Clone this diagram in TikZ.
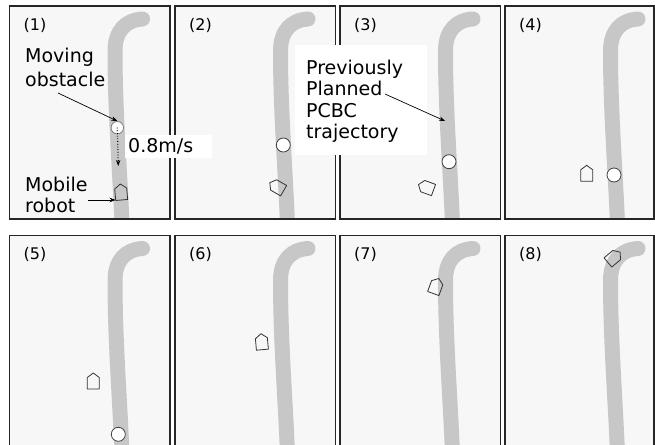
\documentclass[tikz,border=0pt]{standalone}
\usepackage{fontspec}
\setmainfont{DejaVu Sans}
\usetikzlibrary{arrows.meta}
\begin{document}
\begin{tikzpicture}[x=1pt,y=-1pt,
  panelbg/.style={fill=black!3},
  panelframe/.style={draw=black!85,line width=1.2pt},
  traj/.style={draw=black!22,line width=15pt,line cap=round},
  obst/.style={circle,draw=black!75,line width=0.8pt,fill=white,minimum size=14pt,inner sep=0pt},
  robotline/.style={draw=black!80,line width=0.8pt,line join=round},
  robot/.pic={\draw[robotline] (-6,8) -- (6,8) -- (6,-3.5) -- (0,-8) -- (-6,-3.5) -- cycle;},
  lbl/.style={font=\fontsize{19}{22}\selectfont,inner sep=0pt,align=left},
  num/.style={font=\fontsize{16}{19}\selectfont,inner sep=0pt},
  pointer/.style={-{Stealth[length=6pt,width=4.5pt]},line width=0.7pt,black}
]
\useasboundingbox (0,0) rectangle (655,444);
\foreach \px/\py/\pw [count=\i] in {9.5/6/160.5, 175/6/160.5, 340/6/160.5, 505/6/149, 9.5/235.5/160.5, 175/235.5/160.5, 340/235.5/160.5, 505/235.5/149}{
  \begin{scope}[shift={(\px,\py)}]
    \fill[panelbg] (0,0) rectangle (\pw,213);
    \begin{scope}
      \clip (0,0) rectangle (\pw,213);
      \draw[traj] (133,13) .. controls (116,14) and (105.5,25) .. (105.5,45) .. controls (105.5,110) and (111,170) .. (113,232);
    \end{scope}
    \draw[panelframe] (0,0) rectangle (\pw,213);
    \node[num] (num\i) at (25.5,19) {(\i)};
  \end{scope}
}
% obstacles
\node[obst,draw=black!50,minimum size=12.5pt] (obst1) at (117.3,127.7) {};
\node[obst] (obst2) at (283.3,145) {};
\node[obst] (obst3) at (449,161.7) {};
\node[obst] (obst4) at (614,175) {};
\node[obst] (obst5) at (118.3,434.3) {};
% robots
\pic[rotate=5] at (121,192) {robot};
\pic[rotate=60] at (276.7,186.7) {robot};
\pic[rotate=70] at (426,187.3) {robot};
\pic at (586.7,173.3) {robot};
\pic at (93.3,381) {robot};
\pic[rotate=5] at (261.7,341.7) {robot};
\pic[rotate=-20] at (436,286) {robot};
\pic[rotate=-50] at (614,257.3) {robot};
% labels panel 1
\node[lbl,anchor=north west,font=\fontsize{19}{24}\selectfont] (movlbl) at (25,47.5) {Moving\\obstacle};
\coordinate (movfrom) at (58,93);
\draw[pointer] (movfrom) -- (obst1.north);
\coordinate (speedend) at (118.3,166);
\draw[pointer,dotted,line width=1.3pt] (obst1.center) -- (speedend);
\node[lbl,fill=white,anchor=north west,inner xsep=3pt,inner ysep=0pt,minimum height=23pt,text width=81pt] (speedlbl) at (125,135) {0.8m/s};
\node[lbl,anchor=north west,font=\fontsize{19}{21}\selectfont] (roblbl) at (25,176.5) {Mobile\\robot};
\coordinate (robfrom) at (88,200);
\coordinate (robto) at (115.5,200);
\draw[pointer] (robfrom) -- (robto);
% trajectory label
\node[fill=white,minimum width=132pt,minimum height=110pt,inner sep=0pt,anchor=north west] (planbox) at (295,45) {};
\node[lbl,anchor=north west,font=\fontsize{19}{21.5}\selectfont] (planlbl) at (306,59.6) {Previously\\Planned\\PCBC\\trajectory};
\coordinate (planfrom) at (385,94);
\coordinate (trajpt) at (445,121);
\draw[pointer] (planfrom) -- (trajpt);
\end{tikzpicture}
\end{document}
